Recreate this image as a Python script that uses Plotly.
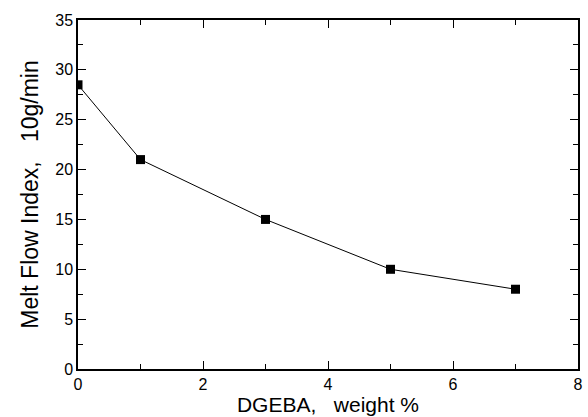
import plotly.graph_objects as go

dgeba_wt = [0, 1, 3, 5, 7]
melt_flow = [28.5, 21, 15, 10, 8]
x_ticks = [0, 2, 4, 6, 8]
y_ticks = [0, 5, 10, 15, 20, 25, 30, 35]

NB = "\u00a0"
FONT = "Liberation Sans, Arial"

fig = go.Figure()
fig.add_trace(go.Scatter(
    x=dgeba_wt, y=melt_flow, mode="lines+markers",
    line=dict(color="black", width=1),
    marker=dict(symbol="square", size=9, color="black"),
    cliponaxis=True, showlegend=False,
))

axis_common = dict(
    showline=True, linecolor="black", linewidth=1.5, mirror="ticks",
    ticks="inside", ticklen=8, tickwidth=1, tickcolor="black",
    showgrid=False, zeroline=False,
    tickfont=dict(family=FONT, size=16, color="black"),
)

fig.update_xaxes(
    range=[0, 8], tickvals=x_ticks,
    minor=dict(ticks="inside", ticklen=5, dtick=1, tickcolor="black", showgrid=False),
    title=dict(text="DGEBA," + NB * 3 + "weight %", font=dict(family=FONT, size=21, color="black"), standoff=2),
    **axis_common,
)
fig.update_yaxes(
    range=[0, 35], tickvals=y_ticks,
    minor=dict(ticks="inside", ticklen=5, dtick=2.5, tickcolor="black", showgrid=False),
    title=dict(text="Melt Flow Index," + NB * 3 + "10g/min", font=dict(family=FONT, size=23, color="black"), standoff=10),
    **axis_common,
)

fig.update_layout(
    width=588, height=417,
    margin=dict(l=78, r=5, t=20, b=48),
    plot_bgcolor="white", paper_bgcolor="white",
)

fig.write_html("out.html")
